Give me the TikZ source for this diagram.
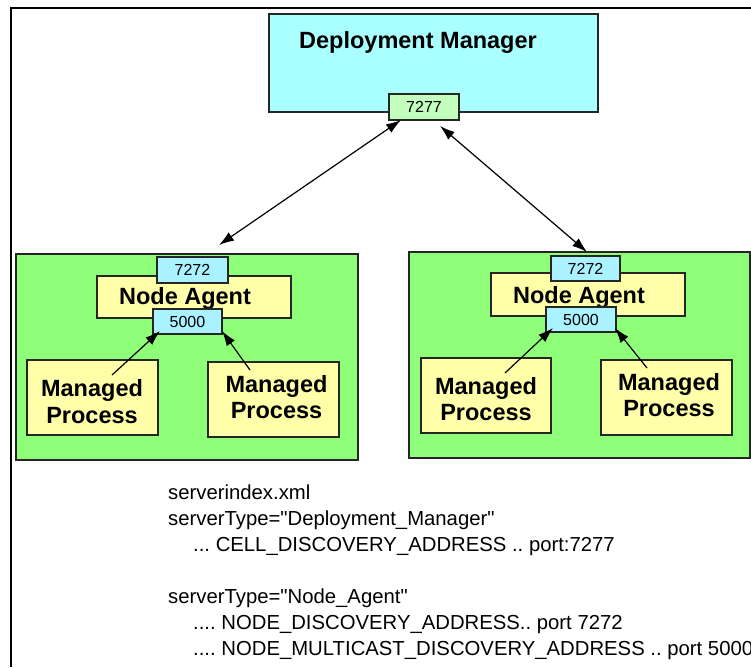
\documentclass[tikz,border=0pt]{standalone}
\usepackage{fontspec}
\setmainfont{Liberation Sans}
\usetikzlibrary{arrows.meta}
\definecolor{dmcyan}{RGB}{170,255,255}
\definecolor{portgreen}{RGB}{194,255,190}
\definecolor{portcyan}{RGB}{170,242,255}
\definecolor{boxgreen}{RGB}{143,255,122}
\definecolor{agentyellow}{RGB}{255,255,170}
\frenchspacing
\begin{document}
\begin{tikzpicture}[x=1pt,y=-1pt,
  box/.style={draw=black!85, line width=1.1pt, rectangle, inner sep=0pt},
  dmbox/.style={box, fill=dmcyan},
  portg/.style={box, fill=portgreen, font=\fontsize{16}{19}\selectfont},
  portc/.style={box, fill=portcyan, font=\fontsize{16}{19}\selectfont},
  container/.style={box, fill=boxgreen},
  yellowbox/.style={box, fill=agentyellow},
  bigtxt/.style={inner sep=0pt, anchor=base, font=\bfseries\fontsize{23.5}{28}\selectfont},
  codetxt/.style={inner sep=0pt, anchor=base west, font=\fontsize{20.3}{24}\selectfont},
  link/.style={line width=1.2pt, {Latex[length=15pt,width=10pt]}-{Latex[length=15pt,width=10pt]}},
  arr/.style={line width=1.2pt, -{Latex[length=15pt,width=10pt]}}
]
\clip (0,0) rectangle (751,667);
\fill[white] (0,0) rectangle (751,667);
% frame
\draw[line width=1.5pt] (11,667) -- (11,8) -- (751,8);

% Deployment manager
\node[dmbox, minimum width=329pt, minimum height=98pt] (dm) at (433.5,63) {};
\node[bigtxt] (dmtext) at (418,48) {Deployment Manager};
\node[portg, minimum width=70pt, minimum height=26pt] (p7277) at (424,107) {7277};

% Left node
\node[container, minimum width=342pt, minimum height=206pt] (lnode) at (187,357) {};
\node[yellowbox, minimum width=194pt, minimum height=42pt] (lna) at (194,297) {};
\node[bigtxt] (lnatext) at (185,304) {Node Agent};
\node[portc, minimum width=71pt, minimum height=26pt] (l7272) at (192.5,270) {7272};
\node[portc, minimum width=69pt, minimum height=25pt] (l5000) at (187.5,321.5) {5000};
\node[yellowbox, minimum width=131pt, minimum height=75pt] (lmp1) at (92.5,397.5) {};
\node[bigtxt] (lmp1a) at (92,396) {Managed};
\node[bigtxt] (lmp1b) at (92,423) {Process};
\node[yellowbox, minimum width=131pt, minimum height=75pt] (lmp2) at (273.5,399.5) {};
\node[bigtxt] (lmp2a) at (276.5,392) {Managed};
\node[bigtxt] (lmp2b) at (276.5,418) {Process};

% Right node
\node[container, minimum width=341pt, minimum height=206pt] (rnode) at (579.5,355) {};
\node[yellowbox, minimum width=194pt, minimum height=43pt] (rna) at (588,294.5) {};
\node[bigtxt] (rnatext) at (579,303) {Node Agent};
\node[portc, minimum width=69pt, minimum height=25pt] (r7272) at (585.5,268.5) {7272};
\node[portc, minimum width=70pt, minimum height=25pt] (r5000) at (581,319.5) {5000};
\node[yellowbox, minimum width=130pt, minimum height=75pt] (rmp1) at (486,395.5) {};
\node[bigtxt] (rmp1a) at (486,394) {Managed};
\node[bigtxt] (rmp1b) at (486,420) {Process};
\node[yellowbox, minimum width=131pt, minimum height=75pt] (rmp2) at (666.5,397.5) {};
\node[bigtxt] (rmp2a) at (669,390) {Managed};
\node[bigtxt] (rmp2b) at (669,416) {Process};

% connector end points
\coordinate (dmL) at (401,120);
\coordinate (dmR) at (440,126);
\coordinate (lnTop) at (219,245);
\coordinate (rnTop) at (587,252);
\coordinate (lmp1t) at (112,375);
\coordinate (lmp2t) at (250,370);
\coordinate (l5000a) at (160,331);
\coordinate (l5000b) at (222,331);
\coordinate (rmp1t) at (505,373);
\coordinate (rmp2t) at (647,368);
\coordinate (r5000a) at (553,328);
\coordinate (r5000b) at (615,328);

\draw[link] (lnTop) -- (dmL);
\draw[link] (dmR) -- (rnTop);
\draw[arr] (lmp1t) -- (l5000a);
\draw[arr] (lmp2t) -- (l5000b);
\draw[arr] (rmp1t) -- (r5000a);
\draw[arr] (rmp2t) -- (r5000b);

% text
\node[codetxt] (t1) at (168,499) {serverindex.xml};
\node[codetxt] (t2) at (168,525) {serverType=\textquotedbl Deployment\_Manager\textquotedbl};
\node[codetxt] (t3) at (193,551) {... CELL\_DISCOVERY\_ADDRESS .. port:7277};
\node[codetxt] (t4) at (168,603) {serverType=\textquotedbl Node\_Agent\textquotedbl};
\node[codetxt] (t5) at (193,629) {.... NODE\_DISCOVERY\_ADDRESS.. port 7272};
\node[codetxt] (t6) at (193,655) {.... NODE\_MULTICAST\_DISCOVERY\_ADDRESS .. port 5000};
\end{tikzpicture}
\end{document}
